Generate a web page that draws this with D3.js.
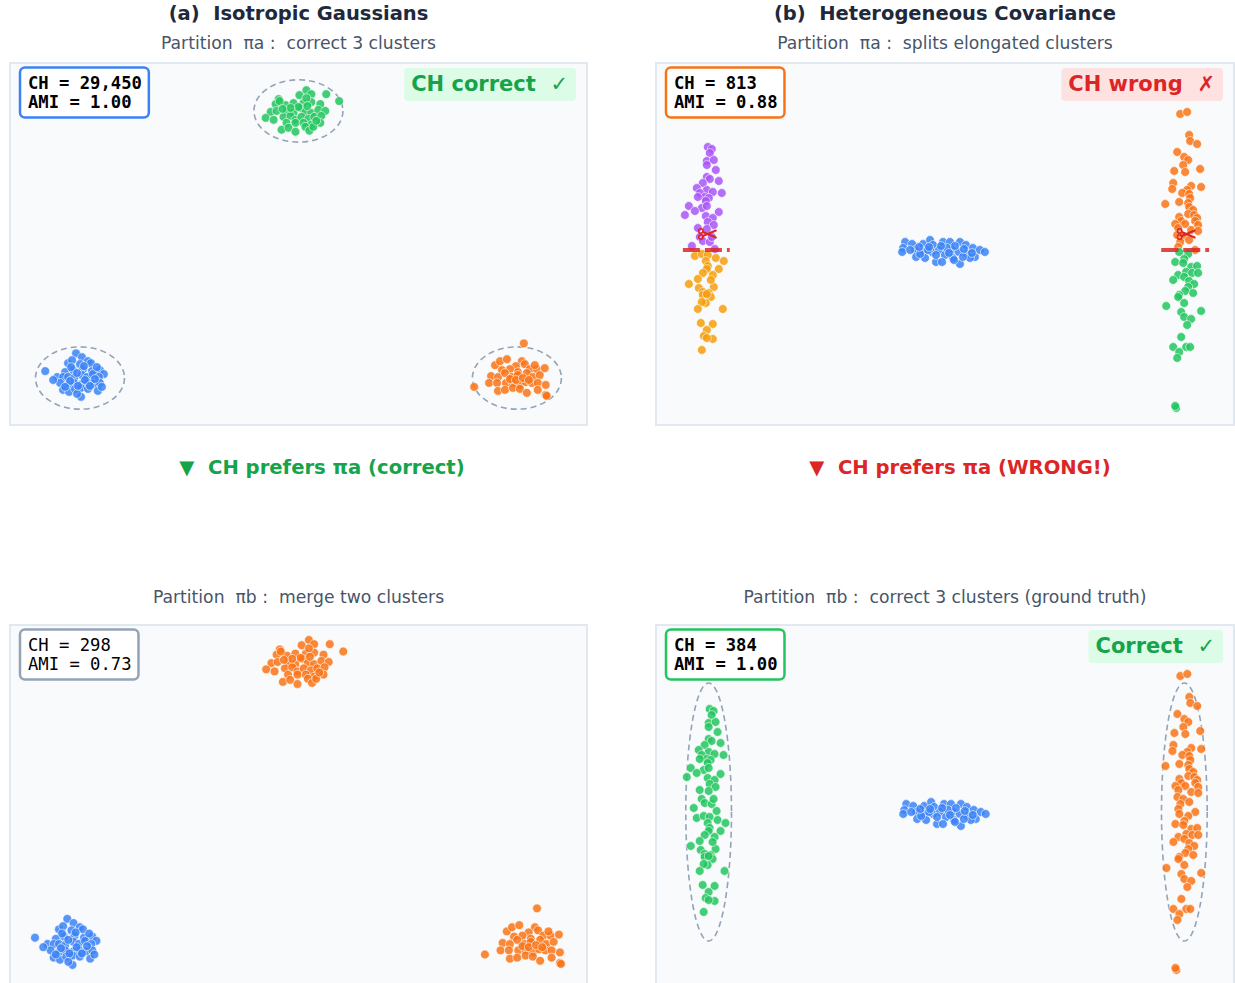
<!DOCTYPE html>
<html><head><meta charset="utf-8">
<script src="https://cdn.jsdelivr.net/npm/d3@7"></script>
<style>
body{margin:0;background:#fff}
svg{display:block}
text{font-family:"DejaVu Sans",sans-serif;white-space:pre}
.mono{font-family:"DejaVu Sans Mono",monospace}
</style>
</head><body>
<svg id="fig" width="1235" height="983"></svg>
<script>
// ---- (a) isotropic Gaussian clusters ----
const blueA = [[-3.5,0.7],[-0.4,2.5],[0.2,2.1],[-1.2,1.5],[0.0,1.4],[0.8,1.7],[1.1,1.5],[-1.5,0.6],[-0.7,0.8],[0.3,0.9],[1.2,0.7],[2.0,0.8],[2.4,0.4],[-2.3,0.1],[-1.7,0.1],[-1.2,0.1],[-0.6,0.0],[0.2,0.3],[0.7,0.1],[1.3,0.4],[1.9,0.1],[-2.0,-0.5],[-1.2,-0.7],[-0.6,-0.5],[0.2,-0.6],[0.8,-0.5],[1.4,-0.6],[2.0,-0.5],[-1.7,-1.2],[-1.1,-1.4],[-0.5,-1.1],[0.1,-1.0],[0.8,-1.1],[1.8,-1.3],[0.1,-1.9],[-0.3,-1.6],[-2.7,-0.2],[-0.8,1.8],[1.7,1.1],[-0.3,0.5],[0.5,-0.2],[-1.0,-0.3],[1.0,-0.8],[-0.2,-0.8],[0.4,1.2],[-1.5,-0.9],[1.5,-0.1],[-0.9,1.1],[2.2,-0.9]];
const greenA = [[20.0,28.2],[22.8,29.1],[22.1,28.6],[23.3,28.7],[24.8,28.7],[26.1,28.0],[19.7,27.7],[20.7,27.6],[21.5,27.8],[22.5,27.8],[23.3,27.9],[24.2,27.7],[19.2,26.9],[19.8,27.0],[20.8,26.9],[21.5,26.8],[22.2,27.3],[22.7,26.9],[23.3,26.8],[24.0,27.1],[24.7,27.0],[18.7,26.3],[19.5,26.1],[20.5,26.4],[21.2,26.5],[21.7,26.1],[22.3,26.4],[23.0,26.2],[23.6,26.4],[24.3,26.5],[20.8,25.8],[21.7,25.8],[22.5,25.8],[23.3,25.6],[24.2,25.8],[20.3,25.1],[21.0,25.3],[21.7,24.9],[22.7,25.4],[23.1,25.0],[23.5,25.4],[20.1,28.0],[22.8,28.3],[22.0,27.4],[21.2,27.3],[22.9,27.5],[20.4,27.2],[23.8,26.0]];
const orangeA = [[44.7,3.5],[39.7,-0.9],[41.8,1.3],[42.3,1.7],[43.0,1.9],[44.5,1.7],[43.9,1.2],[44.8,1.4],[42.5,0.8],[43.3,0.9],[44.1,0.6],[45.3,0.9],[46.0,0.9],[46.8,1.0],[41.4,0.2],[42.1,0.1],[42.8,0.5],[43.5,0.1],[44.1,0.3],[45.0,0.5],[45.6,0.1],[46.3,0.3],[41.2,-0.5],[42.0,-0.5],[42.9,-0.5],[43.6,-0.5],[44.3,-0.7],[44.9,-0.4],[45.5,-0.5],[46.1,-0.5],[46.9,-0.7],[42.1,-1.3],[42.8,-1.2],[43.6,-1.0],[44.3,-1.1],[45.0,-1.5],[46.1,-1.2],[46.9,-1.7],[47.0,-1.8],[43.3,-0.1],[43.9,-0.2],[44.6,0.0],[45.2,-0.2],[45.8,1.3]];

// ---- (b) heterogeneous covariance: two elongated columns + one compact blob ----
const leftUpperB = [[0.2,10.3],[0.6,10.1],[0.4,9.7],[0.1,8.9],[0.8,9.0],[0.1,8.5],[1.0,8.0],[0.1,7.3],[0.4,7.1],[1.3,6.9],[-0.3,6.7],[-0.9,6.2],[0.1,6.0],[0.7,5.8],[-0.6,5.7],[1.6,5.7],[-0.1,5.3],[0.3,5.2],[-0.8,5.3],[0.0,4.9],[-1.7,4.4],[-0.4,4.2],[0.1,4.4],[-1.1,3.9],[-2.1,3.5],[1.3,3.8],[0.0,3.4],[0.7,3.2],[0.2,2.8],[0.8,2.5],[-0.8,2.2],[0.1,2.1],[-0.6,1.3],[-0.3,0.9],[0.4,0.8],[-1.4,0.4],[0.9,0.1],[0.6,1.3]];
const leftLowerB = [[-1.1,-0.6],[-0.4,-0.4],[0.2,-0.5],[1.0,-0.8],[0.0,-1.1],[1.8,-1.1],[0.2,-1.6],[0.1,-1.9],[1.3,-1.9],[-0.3,-2.3],[0.7,-2.5],[-0.8,-2.9],[-1.7,-3.4],[-0.7,-3.8],[0.8,-3.7],[-0.3,-4.2],[0.3,-4.3],[-0.3,-4.5],[0.5,-4.7],[0.0,-5.3],[-0.4,-5.2],[-0.8,-5.9],[1.7,-5.9],[-0.5,-7.3],[0.7,-7.4],[0.1,-8.0],[-0.2,-8.6],[0.7,-8.9],[0.1,-8.8],[-0.4,-10.0],[0.1,-4.4],[0.5,-3.0]];
const rightUpperB = [[47.6,13.6],[48.3,13.8],[48.5,11.5],[48.6,10.9],[49.3,10.6],[47.3,9.8],[48.0,9.3],[48.4,9.0],[47.9,8.5],[49.6,8.1],[47.0,7.9],[48.1,7.8],[46.9,6.7],[46.8,6.1],[48.7,6.4],[48.3,6.0],[49.7,6.3],[47.8,5.7],[48.5,5.6],[48.6,5.2],[47.5,4.8],[48.4,4.7],[46.1,4.6],[48.5,4.3],[48.9,4.0],[48.4,3.6],[49.0,3.5],[49.3,3.2],[47.5,3.3],[47.7,2.9],[49.1,2.9],[47.1,2.6],[48.1,2.6],[49.4,2.5],[47.4,2.2],[48.7,2.0],[49.4,1.9],[47.3,1.5],[47.9,1.3],[47.6,0.8],[47.4,0.3],[49.1,0.0],[48.5,1.0]];
const rightLowerB = [[47.5,-0.2],[48.4,-0.4],[48.0,-0.9],[47.1,-1.2],[47.9,-1.3],[48.7,-1.7],[49.3,-1.6],[47.4,-2.5],[48.2,-2.2],[48.8,-2.3],[49.4,-2.3],[46.9,-3.0],[48.0,-2.7],[48.5,-3.1],[49.0,-3.4],[48.4,-3.7],[48.1,-4.1],[48.9,-4.3],[47.5,-4.5],[47.4,-4.7],[48.0,-5.3],[46.2,-5.6],[49.7,-6.1],[47.7,-6.2],[48.0,-6.7],[48.7,-6.9],[48.3,-7.5],[47.7,-8.7],[46.9,-9.7],[48.2,-9.7],[48.6,-9.7],[47.5,-10.2],[47.3,-10.8],[47.2,-15.8],[47.1,-15.6]];
const centerB = [[20.0,0.8],[19.8,0.2],[19.7,-0.2],[20.7,0.6],[21.0,0.0],[21.1,-0.7],[21.8,0.6],[21.8,-0.2],[22.0,-0.8],[22.5,1.0],[22.8,0.5],[22.7,-0.2],[23.1,-1.2],[23.4,0.0],[23.8,0.8],[24.0,-0.5],[24.5,0.8],[24.7,0.0],[24.8,-0.8],[25.5,0.8],[25.4,-0.2],[25.5,-1.4],[26.1,0.5],[26.2,-0.4],[26.8,0.2],[27.0,-0.7],[27.5,0.0],[28.0,-0.2],[26.5,-0.8],[23.7,-1.2],[21.5,-0.4],[22.3,0.0],[24.2,0.2],[25.0,0.4],[25.8,-0.7],[20.5,0.0],[22.4,0.3],[23.1,-0.5],[24.4,-0.3],[25.9,0.1],[21.4,0.3],[26.7,-0.3],[23.6,0.4],[24.9,-1.0]];

// cluster outlines and the cut applied by partition πa in (b)
const ellipsesA = [[0,0],[22,27],[44,0]];
const ellipseRadiiA = [4.48, 3.15];
const ellipsesB = [[0.1,0],[48,0]];
const ellipseRadiiB = [2.3, 12.9];
const splitY = 0;
const splitSegments = [[-2.3,2.4],[45.7,50.5]];

// scores shown per panel
const chLabels  = ["CH = 29,450", "CH = 813", "CH = 298", "CH = 384"];
const amiLabels = ["AMI = 1.00", "AMI = 0.88", "AMI = 0.73", "AMI = 1.00"];

const C = {
  blue:"#3b82f6", green:"#22c55e", orange:"#f97316", purple:"#a855f7", amber:"#f59e0b",
  slate:"#94a3b8", red:"#dc2626", darkGreen:"#16a34a"
};

const svg = d3.select("#fig");

const panels = [
  { x0:10,  y0:63,  w:577, h:362, xd:[-7.05,51.06], yd:[-4.75,31.85],
    layers:[[blueA,C.blue],[greenA,C.green],[orangeA,C.orange]],
    ell:ellipsesA, rad:ellipseRadiiA, box:C.blue, bold:true,
    badge:{text:"CH correct", mark:"\u2713", fill:"#dcfce7", col:C.darkGreen} },
  { x0:656, y0:63,  w:578, h:362, xd:[-5.0,53.0], yd:[-17.5,18.7],
    layers:[[centerB,C.blue],[leftUpperB,C.purple],[leftLowerB,C.amber],[rightUpperB,C.orange],[rightLowerB,C.green]],
    split:true, box:C.orange, bold:true,
    badge:{text:"CH wrong", mark:"\u2717", fill:"#fee2e2", col:C.red} },
  { x0:10,  y0:625, w:577, h:362, xd:[-5.9,49.5], yd:[-4.0,30.53],
    layers:[[blueA,C.blue],[greenA,C.orange],[orangeA,C.orange]],
    box:C.slate, bold:false },
  { x0:656, y0:625, w:578, h:362, xd:[-5.2,53.0], yd:[-17.5,18.7],
    layers:[[centerB,C.blue],[leftUpperB.concat(leftLowerB),C.green],[rightUpperB.concat(rightLowerB),C.orange]],
    ell:ellipsesB, rad:ellipseRadiiB, box:C.green, bold:true,
    badge:{text:"Correct", mark:"\u2713", fill:"#dcfce7", col:C.darkGreen} }
];

const defs = svg.append("defs");

// small scissors icon marking where a column is cut
function scissors(sel, cx, cy) {
  const g = sel.append("g").attr("transform", `translate(${cx},${cy})`)
    .attr("fill", "none").attr("stroke", C.red).attr("stroke-width", 1.6).attr("stroke-linecap", "round");
  g.append("circle").attr("cx", -6.5).attr("cy", -3).attr("r", 2.2);
  g.append("circle").attr("cx", -6.5).attr("cy", 3).attr("r", 2.2);
  g.append("line").attr("x1", -4.5).attr("y1", -2).attr("x2", 8.5).attr("y2", 3.5).attr("stroke-width", 2);
  g.append("line").attr("x1", -4.5).attr("y1", 2).attr("x2", 8.5).attr("y2", -3.5).attr("stroke-width", 2);
}

panels.forEach((p, i) => {
  const x = d3.scaleLinear().domain(p.xd).range([p.x0, p.x0 + p.w]);
  const y = d3.scaleLinear().domain(p.yd).range([p.y0 + p.h, p.y0]);
  defs.append("clipPath").attr("id", "clip" + i)
    .append("rect").attr("x", p.x0).attr("y", p.y0).attr("width", p.w).attr("height", p.h);

  const g = svg.append("g");
  g.append("rect").attr("x", p.x0).attr("y", p.y0).attr("width", p.w).attr("height", p.h)
    .attr("fill", "#f8fafc").attr("stroke", "#e2e8f0").attr("stroke-width", 2);

  const plot = g.append("g").attr("clip-path", `url(#clip${i})`);

  if (p.ell) {
    plot.selectAll("ellipse.c").data(p.ell).join("ellipse")
      .attr("cx", d => x(d[0])).attr("cy", d => y(d[1]))
      .attr("rx", d => x(d[0] + p.rad[0]) - x(d[0]))
      .attr("ry", d => y(d[1]) - y(d[1] + p.rad[1]))
      .attr("fill", "none").attr("stroke", C.slate).attr("stroke-width", 1.6)
      .attr("stroke-dasharray", "6,4");
  }

  p.layers.forEach(([pts, col]) => {
    plot.append("g").selectAll("circle").data(pts).join("circle")
      .attr("cx", d => x(d[0])).attr("cy", d => y(d[1])).attr("r", 4.4)
      .attr("fill", col).attr("fill-opacity", 0.85)
      .attr("stroke", "#fff").attr("stroke-width", 0.6);
  });

  if (p.split) {
    plot.selectAll("line.cut").data(splitSegments).join("line")
      .attr("x1", d => x(d[0])).attr("x2", d => x(d[1]))
      .attr("y1", y(splitY)).attr("y2", y(splitY))
      .attr("stroke", C.red).attr("stroke-opacity", 0.85).attr("stroke-width", 4)
      .attr("stroke-dasharray", "17,5");
    splitSegments.forEach(d => scissors(plot, x((d[0] + d[1]) / 2) + 1, y(splitY) - 16));
  }

  // score box
  const bx = p.x0 + 10, by = p.y0 + 4.5;
  const boxG = g.append("g");
  const rect = boxG.append("rect");
  const t1 = boxG.append("text").attr("class", "mono").attr("x", bx + 8).attr("y", by + 21)
    .attr("font-size", 17.2).attr("font-weight", p.bold ? "bold" : "normal").attr("fill", "#000").text(chLabels[i]);
  const t2 = boxG.append("text").attr("class", "mono").attr("x", bx + 8).attr("y", by + 40)
    .attr("font-size", 17.2).attr("font-weight", p.bold ? "bold" : "normal").attr("fill", "#000").text(amiLabels[i]);
  const tw = Math.max(t1.node().getComputedTextLength(), t2.node().getComputedTextLength());
  rect.attr("x", bx).attr("y", by).attr("width", tw + 15).attr("height", 50).attr("rx", 5)
    .attr("fill", "#fff").attr("stroke", p.box).attr("stroke-width", 2.5);

  // verdict badge
  if (p.badge) {
    const right = p.x0 + p.w - 11;
    const bg = g.append("g");
    const br = bg.append("rect");
    const bt = bg.append("text").attr("x", right - 8).attr("y", p.y0 + 28)
      .attr("text-anchor", "end").attr("font-size", 21).attr("font-weight", "bold").attr("fill", p.badge.col);
    bt.append("tspan").text(p.badge.text + "  ");
    bt.append("tspan").attr("font-weight", "normal").text(p.badge.mark);
    const bb = bt.node().getBBox();
    br.attr("x", bb.x - 7).attr("y", p.y0 + 5).attr("width", bb.width + 15).attr("height", 33)
      .attr("rx", 4).attr("fill", p.badge.fill);
  }
});

// headings
const headings = [
  {x:298.5, y:20, t:"(a)  Isotropic Gaussians", size:19.5, w:"bold", c:"#1e293b"},
  {x:945,   y:20, t:"(b)  Heterogeneous Covariance", size:19.5, w:"bold", c:"#1e293b"},
  {x:298.5, y:49, t:"Partition  \u03c0a :  correct 3 clusters", size:17.2, w:"normal", c:"#475569"},
  {x:945,   y:49, t:"Partition  \u03c0a :  splits elongated clusters", size:17.2, w:"normal", c:"#475569"},
  {x:322,   y:474, t:"\u25bc  CH prefers \u03c0a (correct)", size:19.6, w:"bold", c:C.darkGreen},
  {x:960,   y:474, t:"\u25bc  CH prefers \u03c0a (WRONG!)", size:19.6, w:"bold", c:C.red},
  {x:298.5, y:603, t:"Partition  \u03c0b :  merge two clusters", size:17.2, w:"normal", c:"#475569"},
  {x:945,   y:603, t:"Partition  \u03c0b :  correct 3 clusters (ground truth)", size:17.2, w:"normal", c:"#475569"}
];
svg.selectAll("text.h").data(headings).join("text").attr("class", "h")
  .attr("x", d => d.x).attr("y", d => d.y).attr("text-anchor", "middle")
  .attr("font-size", d => d.size).attr("font-weight", d => d.w).attr("fill", d => d.c)
  .text(d => d.t);
</script>
</body></html>
